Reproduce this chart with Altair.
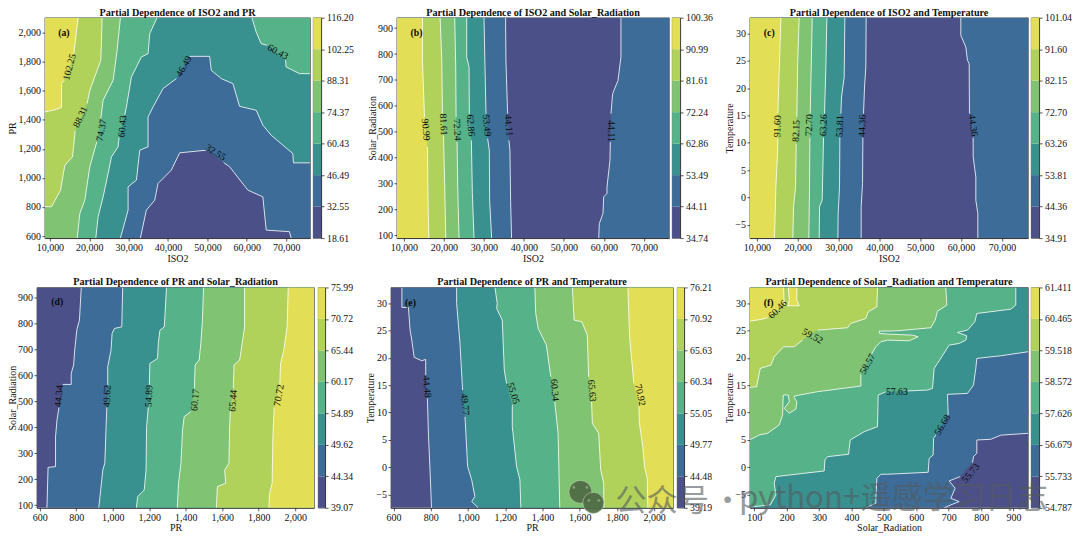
import altair as alt
import pandas as pd

FONT = "Liberation Serif"
BANDS = ["#4b5089", "#3c6c97", "#38918f", "#56b288", "#80c372", "#b0d25b", "#e2de55"]

# ---------- colour-bar levels ----------
LV_A = [18.61, 32.55, 46.49, 60.43, 74.37, 88.31, 102.25, 116.20]
LV_B = [34.74, 44.11, 53.49, 62.86, 72.24, 81.61, 90.99, 100.36]
LV_C = [34.91, 44.36, 53.81, 63.26, 72.70, 82.15, 91.60, 101.04]
LV_D = [39.07, 44.34, 49.62, 54.89, 60.17, 65.44, 70.72, 75.99]
LV_E = [39.19, 44.48, 49.77, 55.05, 60.34, 65.63, 70.92, 76.21]
LV_F = [54.787, 55.733, 56.679, 57.626, 58.572, 59.518, 60.465, 61.411]

# ---------- domains ----------
XA, YA = (8730, 76090), (586, 2103)
XB, YB = (8255, 76310), (90, 940)
XC, YC = (8290, 76420), (-7.43, 32.87)
XD, YD = (585, 2104), (90, 940)
XE, YE = (586, 2102), (-7.43, 32.87)
XF, YF = (86.5, 945), (-7.43, 32.87)

# ---------- contour paths (None = gap for the inline label) ----------
A_102 = [(17180,2103),(16590,1970),(16080,1855),None,(13630,1672),(12960,1649),(12960,1484),(10850,1466),(8730,1455)]
A_88 = [(23270,2103),(22930,1810),(20140,1603),(19460,1512),None,(16420,1324),(15750,1145),(13800,1088),(12700,916),(10420,802),(8730,802)]
A_74 = [(27910,2103),(27070,1878),(26060,1672),(23520,1535),(22930,1409),None,(21910,1248),(20140,1077),(18870,847),(17610,756),(16930,586)]
A_60L = [(37210,2103),(35350,1993),(34930,1855),(33240,1833),(30700,1695),(29440,1489),(29010,1432),None,(27580,1278),(27320,1214),(25630,1145),(24790,1031),(23520,870),(22250,733),(21660,586)]
A_60R = [(61290,2103),(62390,2004),(63660,1924),(65180,1913),None,(69830,1810),(70000,1764),(73380,1718),(76090,1718)]
A_46 = [(27910,586),(29860,779),(29860,939),(31970,985),(32820,1191),(34930,1214),(34930,1420),(36200,1489),(38730,1615),(42110,1684),None,(45490,1837),(50560,1837),(50980,1741),(53520,1684),(56480,1649),(58170,1493),(62390,1466),(64080,1363),(66190,1294),(71690,1168),(71850,1104),(76090,1104)]
A_32 = [(32980,586),(34500,779),(36620,847),(37460,962),(40840,1054),(42960,1173),(49720,1191),None,(54110,1106),(55630,1077),(60280,916),(64080,870),(64930,641),(70840,630),(71260,586)]
A_LABELS = ["102.25", "88.31", "74.37", "60.43", "46.49", "32.55", "60.43"]
A_LX = [14985, 17770, 23100, 28420, 44050, 52080, 67880]
A_LY = [1764, 1420, 1328, 1356, 1768, 1175, 1867]
A_LA = [285, 295, 280, 275, 300, 32, 28]

B_91 = [(14650,940),(14650,775),(15150,557),None,(15900,442),(15980,287),(16230,90)]
B_82 = [(19060,940),(19470,775),(19640,570),None,(19900,486),(20220,287),(20470,90)]
B_72 = [(22710,940),(22960,750),(23050,557),None,(23300,461),(23460,287),(23790,90)]
B_63 = [(25710,940),(25710,788),(26290,750),(26370,570),None,(26870,467),(27120,262),(27530,90)]
B_53 = [(30030,940),(30280,750),(30530,570),None,(30940,474),(31360,429),(31440,236),(31940,90)]
B_44L = [(35430,940),(35510,775),(35930,570),None,(36260,467),(36510,429),(36680,236),(36920,90)]
B_44R = [(64260,940),(64260,788),(63520,698),(62190,647),(61770,570),None,(61610,461),(61520,390),(60770,287),(60770,262),(59940,249),(59780,185),(58860,146),(58700,90)]
B_LABELS = ["90.99", "81.61", "72.24", "62.86", "53.49", "44.11", "44.11"]
B_LX = [15480, 19890, 23300, 26700, 30690, 36180, 61770]
B_LY = [508, 528, 508, 525, 525, 525, 503]
B_LA = [85, 87, 87, 85, 85, 85, 90]

C_92 = [(15880,32.87),(15550,25.07),(15140,15.33),None,(15140,10.76),(15060,8.03),(14650,1.94),(14320,-7.43)]
C_82 = [(20360,32.87),(19960,23.85),(19790,14.72),None,(19630,9.85),(19470,1.94),(18980,-1.71),(18810,-7.43)]
C_73 = [(23550,32.87),(23300,23.85),(23060,15.33),None,(22970,10.95),(22890,1.94),(22730,-7.43)]
C_63 = [(27140,32.87),(26890,23.85),(26560,15.33),None,(26320,10.95),(25990,-0.5),(25340,-1.71),(25260,-7.43)]
C_54 = [(31540,32.87),(31380,22.03),(30730,18.37),(30560,15.33),None,(30320,10.95),(30240,1.94),(29910,-2.93),(29830,-7.43)]
C_44L = [(36760,32.87),(36680,23.85),(36360,20.2),(36110,15.33),None,(35950,10.95),(35870,2.55),(35540,-1.71),(35540,-7.43)]
C_44R = [(59940,32.87),(59940,29.63),(61160,27.5),(61570,25.07),(61980,24.46),(62060,15.33),None,(62960,10.95),(62960,7.42),(63610,3.77),(63610,-0.5),(64100,-2.93),(64100,-7.43)]
C_LABELS = ["91.60", "82.15", "72.70", "63.26", "53.81", "44.36", "44.36"]
C_LX = [15060, 19630, 22810, 26320, 30320, 35790, 62960]
C_LY = [13.02, 12.17, 13.2, 13.2, 13.02, 13.1, 13.2]
C_LA = [272, 272, 272, 272, 272, 272, 82]

D_44 = [(828,940),(818,814),(804,778),(793,705),(786,641),(773,608),(773,566),(727,566),None,(706,477),(695,429),(687,364),(687,249),(646,246),(640,90)]
D_50 = [(1055,940),(1050,788),(1010,782),(997,763),(991,698),(973,634),(973,564),None,(968,477),(964,403),(957,262),(946,236),(924,90)]
D_55 = [(1295,940),(1283,788),(1259,775),(1250,724),(1246,666),(1204,647),(1201,564),None,(1195,477),(1186,403),(1183,236),(1173,159),(1137,133),(1130,90)]
D_60 = [(1498,940),(1492,814),(1483,724),(1474,660),(1452,641),(1448,551),None,(1428,461),(1392,442),(1383,390),(1374,262),(1361,185),(1354,90)]
D_65 = [(1723,940),(1723,788),(1696,660),(1665,641),(1661,551),None,(1645,467),(1641,403),(1637,262),(1614,236),(1619,185),(1574,172),(1568,90)]
D_71 = [(1962,940),(1956,788),(1938,698),(1920,647),(1916,564),None,(1885,477),(1878,365),(1874,185),(1860,146),(1856,90)]
D_LABELS = ["44.34", "49.62", "54.89", "60.17", "65.44", "70.72"]
D_LX = [706, 970, 1199, 1452, 1660, 1911]
D_LY = [521, 521, 521, 506, 503, 524]
D_LA = [275, 272, 272, 275, 275, 280]

E_44 = [(645,32.87),(645,29.21),(680,29.21),(689,25.07),(698,23.24),(711,20.08),(752,19.47),(773,19.71),(773,16.85),None,(782,12.59),(788,5.59),(796,-0.5),(804,-7.43)]
E_50 = [(939,32.87),(939,29.94),(957,22.63),(971,14.11),None,(984,9.24),(998,0.11),(1020,-2.32),(1037,-5.37),(1020,-6.28),(1055,-7.43)]
E_55 = [(1145,32.87),(1157,29.94),(1154,29.03),(1184,26.9),(1195,17.77),(1207,15.33),None,(1238,11.37),(1238,7.42),(1261,0.11),(1279,-2.32),(1284,-7.43)]
E_60 = [(1359,32.87),(1364,28.11),(1377,25.37),(1421,22.33),(1445,16.55),None,(1466,11.98),(1484,6.2),(1493,-7.43)]
E_66 = [(1561,32.87),(1570,26.9),(1612,26.59),(1641,24.16),(1648,16.55),None,(1664,11.98),(1668,8.03),(1702,6.2),(1713,-0.5),(1729,-2.93),(1730,-7.43)]
E_71 = [(1859,32.87),(1868,23.85),(1891,15.33),None,(1918,11.07),(1921,8.03),(1939,3.77),(1948,0.11),(1963,-2.02),(1966,-7.43)]
E_LABELS = ["44.48", "49.77", "55.05", "60.34", "65.63", "70.92"]
E_LX = [779, 984, 1243, 1466, 1666, 1925]
E_LY = [14.72, 11.5, 13.5, 14.11, 13.99, 13.2]
E_LA = [85, 85, 72, 85, 85, 78]

F_56 = [(945,6.2),(860.7,5.86),(829.9,5.1),(786.7,4.98),(786.7,2.54),(776.4,1.93),(773.3,0.84),None,(735.3,-1.72),(701.4,-2.51),(719.9,-3.85),(706.5,-5.68),(732.2,-6.29),(706.5,-6.9),(686,-7.43)]
F_57 = [(945,21.11),(860.7,20.38),(786.7,19.89),(783.6,18.07),(776.4,15.02),(758,13.5),(696.2,13.32),(698.3,9.55),None,(660.3,5.89),(653.1,5.28),(652,2.24),(639.7,1.63),(636.6,-0.93),(511.2,-1.29),(490.6,-1.29),(478.3,-2.03),(475.2,-5.68),(475.2,-6.59),(444.3,-7.43)]
F_58 = [(907,32.87),(907,29.64),(891.6,28.9),(786.7,28.11),(780.5,26.59),(758,25.07),(727.1,24.64),(755.9,24.03),(752.8,23.24),(732.2,22.63),(701.4,22.33),(665.4,18.98),(655.1,18.07),(650,14.41),(634.6,14.11),(574,13.95),None,(506,13.8),(482.4,13.2),(480.3,7.41),(439.2,6.5),(396,4.98),(390.9,2.36),(326.1,1.93),(317.9,1.32),(315.8,-0.69),(254.2,-1.11),(166.8,-1.72),(161.6,-2.94),(166.8,-5.07),(149.3,-6.9),(100,-7.2),(86.5,-7.3)]
F_59 = [(691,32.87),(694.2,29.64),(665.4,28.54),(658.2,26.9),(644.8,25.5),(542,24.95),(511.2,24.89),(485.5,24.89),(486.5,24.46),(511.2,24.34),(588.3,24.15),(605.8,23.85),(578,23.12),(511.2,23.24),(490.6,22.94),(475.2,22.02),(459.8,20.5),None,(428.9,16.97),(429,14.84),(295.3,13.81),(223.4,13.02),(223.3,12.71),(231.5,11.98),(228.5,10.64),(207.9,9.85),(192.5,10.76),(207.9,11.98),(204.8,13.2),(189.4,13.2),(187.3,9.55),(177,7.72),(141,6.2),(115.4,5.89),(89.7,5.1),(86.5,5.1)]
F_60 = [(480.3,32.87),(478.3,29.33),(451.5,28.42),(444.3,27.2),(398,26.29),(387.8,25.5),(295.3,25.07),None,(249,23.24),(223.3,22.02),(190.4,22.02),(161.6,20.2),(151.4,18.67),(118.5,18.07),(108,15.0),(108,14.72),(86.5,14.6)]
F_61 = [(86.5,26.71),(120.5,27.02),(141,27.32),None,(192.5,29.76),(190.4,32.87)]
F_61I = [(205,32.87),(208,30.55),(203,29.52),(239,29.52),(231,30.55),(232,32.87)]
F_LABELS = ["60.46", "59.52", "58.57", "57.63", "56.68", "55.73"]
F_LX = [172, 279.9, 449.5, 540, 680.8, 768]
F_LY = [28.84, 23.97, 18.86, 13.81, 7.72, -1.11]
F_LA = [315, 28, 300, 0, 300, 310]

TICKS_ISO = [10000, 20000, 30000, 40000, 50000, 60000, 70000]
TICKS_PR = [600, 800, 1000, 1200, 1400, 1600, 1800, 2000]
TICKS_SOL = [100, 200, 300, 400, 500, 600, 700, 800, 900]
TICKS_TMP = [-5, 0, 5, 10, 15, 20, 25, 30]

AXIS = dict(labelFont=FONT, titleFont=FONT, labelFontSize=10, titleFontSize=10, titleFontWeight="normal",
            labelColor="#111", titleColor="#111", domainColor="#111", tickColor="#111", domainWidth=0.7,
            tickWidth=0.7, tickSize=3, grid=False, labelFlush=False, labelOverlap=False)

H = 221


def poly_df(path, closing):
    pts = [p for p in path if p is not None] + list(closing)
    return pd.DataFrame({"x": [p[0] for p in pts], "y": [p[1] for p in pts], "i": list(range(len(pts)))})


def line_df(path):
    return pd.DataFrame({"x": [p[0] if p else None for p in path],
                         "y": [p[1] if p else None for p in path],
                         "i": list(range(len(path)))})


def panel(title, tag, tag_xy, xname, yname, xd, yd, xt, yt, base, contours, lbl, w, h=H, ytitlepad=0.0):
    x = alt.X("x:Q", title=xname, scale=alt.Scale(domain=list(xd), nice=False, zero=False),
              axis=alt.Axis(values=xt, format=",.0f", titlePadding=0.5, labelPadding=1.5, **AXIS))
    y = alt.Y("y:Q", title=yname, scale=alt.Scale(domain=list(yd), nice=False, zero=False),
              axis=alt.Axis(values=yt, format=",.0f", titlePadding=ytitlepad, labelPadding=1.5, **AXIS))
    rect = [(xd[0], yd[0]), (xd[0], yd[1]), (xd[1], yd[1]), (xd[1], yd[0])]
    layers = [alt.Chart(poly_df([], rect)).mark_line(fill=BANDS[base], strokeWidth=0, clip=True)
              .encode(x=x, y=y, order=alt.Order("i:Q"))]
    for path, band, closing in contours:
        layers.append(alt.Chart(poly_df(path, closing)).mark_line(fill=BANDS[band], strokeWidth=0, clip=True)
                      .encode(x=x, y=y, order=alt.Order("i:Q")))
    for path, band, closing in contours:
        layers.append(alt.Chart(line_df(path)).mark_line(color="white", strokeWidth=0.9, opacity=0.9, clip=True)
                      .encode(x=x, y=y, order=alt.Order("i:Q")))
    labels, lx, ly, la = lbl
    ldf = pd.DataFrame({"x": lx, "y": ly, "t": labels, "a": la})
    layers.append(alt.Chart(ldf).mark_text(font=FONT, fontSize=9.8, color="#0b0b0b")
                  .encode(x=x, y=y, text="t:N", angle=alt.Angle("a:Q", scale=None)))
    tdf = pd.DataFrame({"x": [tag_xy[0]], "y": [tag_xy[1]], "t": [tag]})
    layers.append(alt.Chart(tdf).mark_text(font=FONT, fontSize=9.8, fontWeight="bold", color="#0b0b0b")
                  .encode(x=x, y=y, text="t:N"))
    return alt.layer(*layers).properties(
        width=w, height=h,
        title=alt.TitleParams(title, font=FONT, fontSize=10.2, fontWeight="bold", color="#111", anchor="middle", offset=0),
        view=alt.ViewConfig(stroke="#222", strokeWidth=0.7))


def colorbar(levels, fmt, w, extra=None, h=H):
    df = pd.DataFrame({"lo": levels[:-1], "hi": levels[1:], "b": list(range(7))})
    y = alt.Y("lo:Q", title=None, scale=alt.Scale(domain=[levels[0], levels[-1]], nice=False, zero=False),
              axis=alt.Axis(orient="right", values=levels, format=fmt, labelPadding=2.5, **{**AXIS, "labelFontSize": 9.8}))
    bar = alt.Chart(df).mark_rect().encode(
        x=alt.value(0), x2=alt.value(w), y=y, y2="hi:Q",
        color=alt.Color("b:O", legend=None, scale=alt.Scale(domain=list(range(7)), range=BANDS)))
    layers = [bar] + (extra or [])
    return alt.layer(*layers).properties(width=w, height=h, view=alt.ViewConfig(stroke="#222", strokeWidth=0.7))


def spacer(w, h=H):
    return alt.Chart(pd.DataFrame({"s": [0]})).mark_point(opacity=0).encode(
        x=alt.value(0), y=alt.value(0)).properties(width=w, height=h, view=alt.ViewConfig(stroke=None))


def left(c, xd, yd):
    return (c[0], c[1], [(xd[0], yd[0]), (xd[0], yd[1])])


def right(c, xd, yd):
    return (c[0], c[1], [(xd[1], yd[0]), (xd[1], yd[1])])


pa = panel("Partial Dependence of ISO2 and PR", "(a)", (13550, 2000), "ISO2", "PR", XA, YA, TICKS_ISO, TICKS_PR, 2, [
    (A_60L, 3, [(XA[0], YA[0]), (XA[0], YA[1])]),
    (A_74, 4, [(XA[0], YA[0]), (XA[0], YA[1])]),
    (A_88, 5, [(XA[0], YA[1])]),
    (A_102, 6, [(XA[0], YA[1])]),
    (A_60R, 3, [(XA[1], YA[1])]),
    (A_46, 1, [(XA[1], YA[0])]),
    (A_32, 0, []),
], (A_LABELS, A_LX, A_LY, A_LA), 266)

pb = panel("Partial Dependence of ISO2 and Solar_Radiation", "(b)", (13160, 882), "ISO2", "Solar_Radiation", XB, YB, TICKS_ISO, TICKS_SOL, 1, [
    left((B_44R, 0), XB, YB), left((B_44L, 1), XB, YB), left((B_53, 2), XB, YB), left((B_63, 3), XB, YB),
    left((B_72, 4), XB, YB), left((B_82, 5), XB, YB), left((B_91, 6), XB, YB),
], (B_LABELS, B_LX, B_LY, B_LA), 273)

pc = panel("Partial Dependence of ISO2 and Temperature", "(c)", (13020, 30.1), "ISO2", "Temperature", XC, YC, TICKS_ISO, TICKS_TMP, 1, [
    left((C_44R, 0), XC, YC), left((C_44L, 1), XC, YC), left((C_54, 2), XC, YC), left((C_63, 3), XC, YC),
    left((C_73, 4), XC, YC), left((C_82, 5), XC, YC), left((C_92, 6), XC, YC),
], (C_LABELS, C_LX, C_LY, C_LA), 279)

pd_ = panel("Partial Dependence of PR and Solar_Radiation", "(d)", (696, 882), "PR", "Solar_Radiation", XD, YD, TICKS_PR, TICKS_SOL, 0, [
    right((D_44, 1), XD, YD), right((D_50, 2), XD, YD), right((D_55, 3), XD, YD),
    right((D_60, 4), XD, YD), right((D_65, 5), XD, YD), right((D_71, 6), XD, YD),
], (D_LABELS, D_LX, D_LY, D_LA), 278)

pe = panel("Partial Dependence of PR and Temperature", "(e)", (691, 30.1), "PR", "Temperature", XE, YE, TICKS_PR, TICKS_TMP, 0, [
    right((E_44, 1), XE, YE), right((E_50, 2), XE, YE), right((E_55, 3), XE, YE),
    right((E_60, 4), XE, YE), right((E_66, 5), XE, YE), right((E_71, 6), XE, YE),
], (E_LABELS, E_LX, E_LY, E_LA), 283)

full_ul = [(XF[0], YF[0]), (XF[0], YF[1]), (XF[1], YF[1])]
pf = panel("Partial Dependence of Solar_Radiation and Temperature", "(f)", (144, 30.1), "Solar_Radiation", "Temperature", XF, YF, TICKS_SOL, TICKS_TMP, 0, [
    (F_56, 1, full_ul), (F_57, 2, full_ul),
    (F_58, 3, [(XF[0], YF[1])]), (F_59, 4, [(XF[0], YF[1])]), (F_60, 5, [(XF[0], YF[1])]),
    (F_61, 6, [(XF[0], YF[1])]), (F_61I, 6, []),
], (F_LABELS, F_LX, F_LY, F_LA), 279)

# ---------- watermark overlaying the lower right of the picture ----------
WM_TEXT = ["公众号", "·", "python+遥感学习日志"]
WM_DX = [-417, -320, -293]
WM_DY = [215, 215, 212]
WM_ICON_DX = [-452, -439]
WM_ICON_DY = [205, 216]
WM_ICON_SIZE = [530, 450]
WM_EYE_DX = [-458.5, -445.5, -443.5, -433.5]
WM_EYE_DY = [200.5, 200.5, 213.5, 213.5]
wm = [alt.Chart(pd.DataFrame({"t": [t]})).mark_text(
        font="Noto Sans CJK SC", fontSize=31.3, align="left", baseline="middle", color="#555b5f", opacity=0.6
      ).encode(text="t:N", x=alt.value(dx), y=alt.value(dy)) for t, dx, dy in zip(WM_TEXT, WM_DX, WM_DY)]
wm += [alt.Chart(pd.DataFrame({"s": [s]})).mark_point(
        filled=True, color="#4f6b45", stroke="#c8d8b8", strokeWidth=1, strokeOpacity=0.6, opacity=0.92, shape="circle", size=s
      ).encode(x=alt.value(dx), y=alt.value(dy))
      for s, dx, dy in zip(WM_ICON_SIZE, WM_ICON_DX, WM_ICON_DY)]
wm += [alt.Chart(pd.DataFrame({"d": [dx], "e": [dy]})).mark_point(
        filled=True, color="#8ba57e", opacity=0.9, shape="circle", size=7
      ).encode(x=alt.value(dx), y=alt.value(dy))
      for dx, dy in zip(WM_EYE_DX, WM_EYE_DY)]

row1 = alt.hconcat(spacer(8), pa, spacer(3), colorbar(LV_A, ".2f", 8), spacer(76),
                   pb, spacer(3), colorbar(LV_B, ".2f", 8), spacer(70),
                   pc, spacer(3), colorbar(LV_C, ".2f", 8), spacing=0, bounds="flush")
row2 = alt.hconcat(pd_, spacer(4), colorbar(LV_D, ".2f", 7), spacer(66),
                   pe, spacer(4), colorbar(LV_E, ".2f", 7), spacer(66),
                   pf, spacer(3), colorbar(LV_F, ".3f", 8, extra=wm), spacing=0, bounds="flush")

chart = alt.vconcat(row1, row2, spacing=12.5).properties(
    padding={"left": -1, "top": -2, "right": 0, "bottom": 0}, background="white")
chart.save("out.html", embed_options={"renderer": "svg", "actions": False})
